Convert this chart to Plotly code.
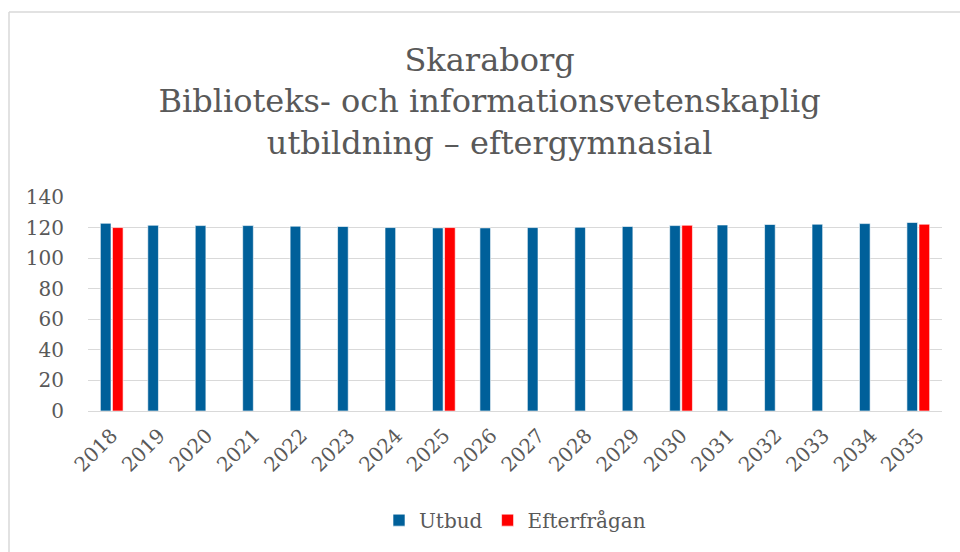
import plotly.graph_objects as go

years = [str(y) for y in range(2018, 2036)]
utbud = [122.8, 121.5, 121.3, 121.3, 120.9, 120.7, 120.0, 119.8, 119.8,
         120.0, 120.2, 120.7, 121.3, 121.7, 122.0, 122.2, 122.6, 123.3]
efterfragan = [120.0, None, None, None, None, None, None, 120.0, None,
               None, None, None, 121.5, None, None, None, None, 122.2]

FONT = "DejaVu Serif"
GRAY = "#595959"

fig = go.Figure()
fig.add_trace(go.Bar(x=years, y=utbud, name="Utbud", marker_color="#00609A",
                     marker_line=dict(color="rgba(255,255,255,0.6)", width=1)))
fig.add_trace(go.Bar(x=years, y=efterfragan, name="Efterfrågan", marker_color="#FF0000",
                     marker_line=dict(color="rgba(255,255,255,0.6)", width=1)))

fig.update_layout(
    width=960, height=552,
    margin=dict(l=88, r=18, t=197, b=141, autoexpand=False),
    paper_bgcolor="white", plot_bgcolor="white",
    barmode="group", bargap=0.49, bargroupgap=0.12,
    font=dict(family=FONT, color=GRAY),
    title=dict(text="Skaraborg<br>Biblioteks- och informationsvetenskaplig<br>utbildning – eftergymnasial",
               x=0.51, xanchor="center", y=0.872, yanchor="top",
               font=dict(family=FONT, size=32, color=GRAY)),
    xaxis=dict(tickangle=-45, tickfont=dict(size=20, color=GRAY), showgrid=False,
               showline=True, linecolor="#D9D9D9", linewidth=1, ticks="",
               ticklabelstandoff=4),
    yaxis=dict(range=[0, 140], dtick=20, tickfont=dict(size=20, color=GRAY),
               gridcolor="#D9D9D9", gridwidth=1, zeroline=False, ticks="",
               ticklabelstandoff=23),
    legend=dict(orientation="h", x=0.5, xanchor="center", y=-0.51, yanchor="middle",
                font=dict(size=20, color=GRAY), itemwidth=30),
    showlegend=True,
)

# figure border (top and left visible)
fig.add_shape(type="line", xref="paper", yref="paper",
              x0=-79/854, x1=1.05, y0=(552-141-12)/214, y1=(552-141-12)/214,
              line=dict(color="#D9D9D9", width=1.5))
fig.add_shape(type="line", xref="paper", yref="paper",
              x0=-79/854, x1=-79/854, y0=(552-141-12)/214, y1=-0.7,
              line=dict(color="#D9D9D9", width=1.5))

fig.write_html("out.html", config={"displayModeBar": False},
               post_script="document.body.style.margin='0';document.body.style.overflow='hidden';")
